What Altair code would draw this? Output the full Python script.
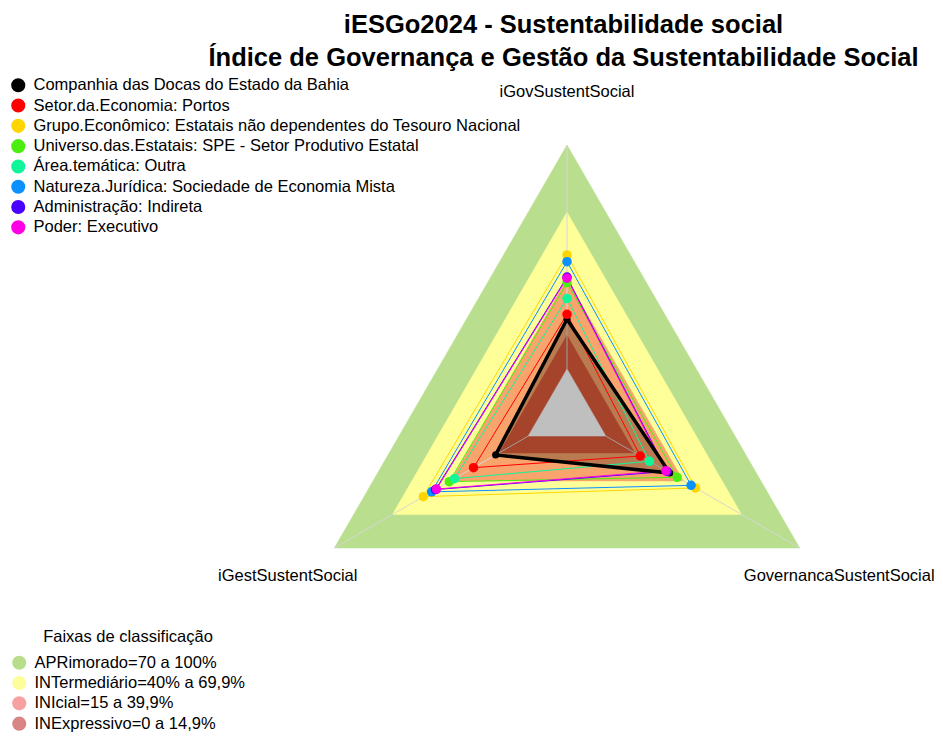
import math
import altair as alt
import pandas as pd

# ---------------- data ----------------
AXES = ["iGovSustentSocial", "iGestSustentSocial", "GovernancaSustentSocial"]
ANGLES = [90, 210, 330]

SERIES = [
    "Companhia das Docas do Estado da Bahia",
    "Setor.da.Economia: Portos",
    "Grupo.Econômico: Estatais não dependentes do Tesouro Nacional",
    "Universo.das.Estatais: SPE - Setor Produtivo Estatal",
    "Área.temática: Outra",
    "Natureza.Jurídica: Sociedade de Economia Mista",
    "Administração: Indireta",
    "Poder: Executivo",
]
COLORS = ["#000000", "#ff0000", "#ffd500", "#4cee10", "#10f59a",
          "#0a90ff", "#4a00ff", "#ff00e6"]

V_IGOV = [0.222, 0.244, 0.509, 0.385, 0.315, 0.479, 0.410, 0.405]
V_IGEST = [0.168, 0.282, 0.541, 0.407, 0.380, 0.498, 0.478, 0.473]
V_GOVSS = [0.330, 0.178, 0.463, 0.368, 0.225, 0.440, 0.316, 0.310]

BANDS = ["APRimorado=70 a 100%", "INTermediário=40% a 69,9%",
         "INIcial=15 a 39,9%", "INExpressivo=0 a 14,9%"]
BAND_LEGEND_COLORS = ["#b8de8c", "#fdfd9c", "#f7a1a1", "#d98585"]
BAND_LIMITS = [1.0, 0.70, 0.40, 0.15, 0.0]
BAND_FILLS = ["#b9df8e", "#ffff99", "#f9a46c", "#dc5a3a", "#ffffff"]

TITLE = ["iESGo2024 - Sustentabilidade social",
         "Índice de Governança e Gestão da Sustentabilidade Social"]
FONT = "Liberation Sans"
FS = 16.5


def rad(v):
    return 1 / 6 + 5 / 6 * v


def pos(v, ang):
    r = rad(v)
    a = math.radians(ang)
    return r * math.cos(a), r * math.sin(a)


# ---------------- tables ----------------
band_rows = []
for b, lim in enumerate(BAND_LIMITS):
    for k in range(4):
        x, y = pos(lim, ANGLES[k % 3])
        band_rows.append({"band": b, "k": k, "x": x, "y": y})
band_df = pd.DataFrame(band_rows)

ser_rows = []
pt_rows = []
for i, s in enumerate(SERIES):
    vals = [V_IGOV[i], V_IGEST[i], V_GOVSS[i]]
    for k in range(4):
        x, y = pos(vals[k % 3], ANGLES[k % 3])
        ser_rows.append({"serie": s, "si": i, "k": k, "x": x, "y": y})
        if k < 3:
            pt_rows.append({"serie": s, "si": i, "k": k, "x": x, "y": y})
ser_df = pd.DataFrame(ser_rows)
pt_df = pd.DataFrame(pt_rows)

spoke_rows = []
for k, a in enumerate(AXES):
    x0, y0 = pos(0, ANGLES[k])
    x1, y1 = pos(1, ANGLES[k])
    spoke_rows.append({"axis": a, "x": x0, "y": y0, "x2": x1, "y2": y1})
spoke_df = pd.DataFrame(spoke_rows)

lab_rows = []
for k, a in enumerate(AXES):
    ang = math.radians(ANGLES[k])
    lab_rows.append({"axis": a, "k": k,
                     "x": 1.2 * math.cos(ang), "y": 1.2 * math.sin(ang)})
lab_df = pd.DataFrame(lab_rows)

band_dummy = pd.DataFrame({"faixa": BANDS, "x": [0.0] * 4, "y": [0.0] * 4})
serie_dummy = pd.DataFrame({"serie": SERIES, "x": [0.0] * 8, "y": [0.0] * 8})

# ---------------- scales ----------------
PX = 268.7
W, H = 927, 650
CX, CY = 559.0, 335.7
xs = alt.Scale(domain=[-CX / PX, (W - CX) / PX], nice=False, zero=False)
ys = alt.Scale(domain=[-(H - CY) / PX, CY / PX], nice=False, zero=False)
X = alt.X("x:Q", scale=xs, axis=None)
Y = alt.Y("y:Q", scale=ys, axis=None)

series_color = alt.Scale(domain=SERIES, range=COLORS)

layers = []

# legend carriers (hidden below the polygons)
layers.append(
    alt.Chart(serie_dummy).mark_circle(opacity=1, size=1).encode(
        x=X, y=Y,
        fill=alt.Fill("serie:N", scale=series_color, sort=SERIES,
                      legend=alt.Legend(
                          title=None, orient="none", legendX=2, legendY=-1,
                          symbolType="circle", symbolSize=200, rowPadding=3.3,
                          labelOffset=7, labelLimit=700)),
    )
)
layers.append(
    alt.Chart(band_dummy).mark_circle(opacity=1, size=1).encode(
        x=X, y=Y,
        fill=alt.Fill("faixa:N", sort=BANDS,
                      scale=alt.Scale(domain=BANDS, range=BAND_LEGEND_COLORS),
                      legend=alt.Legend(
                          title="Faixas de classificação", orient="none",
                          legendX=3, legendY=551, symbolType="circle",
                          symbolSize=200, rowPadding=3.3, labelOffset=7,
                          labelLimit=700,
                          titleFontWeight="normal", titleFontSize=FS,
                          titleFont=FONT, titleAnchor="middle",
                          titlePadding=9, titleColor="#000000")),
    )
)

# bands
for b, fc in enumerate(BAND_FILLS):
    layers.append(
        alt.Chart(band_df[band_df["band"] == b]).mark_line(
            fill=fc, stroke=fc, strokeWidth=0.5
        ).encode(x=X, y=Y, order="k:O")
    )

# spokes
layers.append(
    alt.Chart(spoke_df).mark_rule(color="#d6d6d6", strokeWidth=1).encode(
        x=X, y=Y, x2="x2:Q", y2="y2:Q"
    )
)

# translucent fill of the company polygon
layers.append(
    alt.Chart(ser_df[ser_df["si"] == 0]).mark_line(
        fill="#000000", fillOpacity=0.25, strokeOpacity=0
    ).encode(x=X, y=Y, order="k:O")
)

# series outlines
layers.append(
    alt.Chart(ser_df[ser_df["si"] > 0]).mark_line(strokeWidth=1).encode(
        x=X, y=Y, order="k:O",
        detail="serie:N",
        stroke=alt.Stroke("serie:N", scale=series_color, legend=None),
    )
)
layers.append(
    alt.Chart(ser_df[ser_df["si"] == 0]).mark_line(strokeWidth=3.5, color="#000000").encode(
        x=X, y=Y, order="k:O"
    )
)

# points
layers.append(
    alt.Chart(pt_df).mark_circle(opacity=1).encode(
        x=X, y=Y,
        order="si:Q",
        size=alt.condition("datum.si == 0", alt.value(50), alt.value(90)),
        color=alt.Color("serie:N", scale=series_color, legend=None),
    )
)

# axis labels
layers.append(
    alt.Chart(lab_df[lab_df["k"] < 2]).mark_text(
        fontSize=FS, font=FONT, color="#000000",
        align="center", baseline="middle", dy=1).encode(
        x=X, y=Y, text="axis:N"
    )
)
layers.append(
    alt.Chart(lab_df[lab_df["k"] == 2]).mark_text(
        fontSize=FS, font=FONT, color="#000000",
        align="center", baseline="middle", dy=1, dx=-7).encode(
        x=X, y=Y, text="axis:N"
    )
)

chart = alt.layer(*layers).resolve_scale(fill="independent").properties(
    width=W, height=H,
    padding={"top": 70, "left": 0, "right": 0, "bottom": 4},
    autosize=alt.AutoSizeParams(type="none"),
    title=alt.TitleParams(text=TITLE, fontSize=25.5, font=FONT, fontWeight="bold",
                          anchor="middle", lineHeight=33, dx=92, offset=6,
                          color="#000000"),
).configure_view(stroke=None).configure_legend(
    labelFont=FONT, labelFontSize=FS, labelColor="#000000", padding=0,
    symbolStrokeWidth=0,
)

chart.save("out.html", embed_options={"renderer": "svg", "actions": False})
